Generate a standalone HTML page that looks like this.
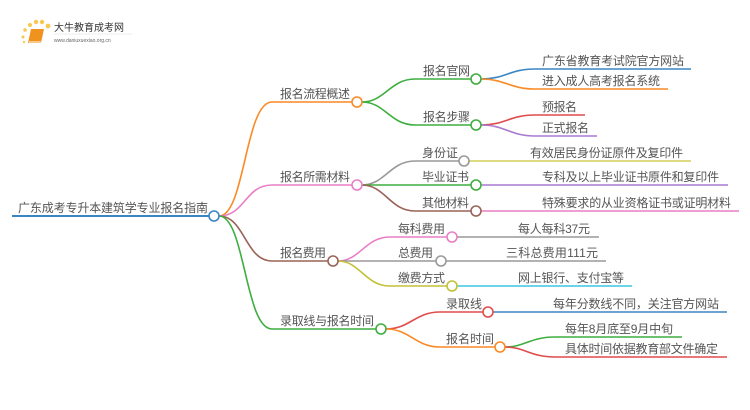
<!DOCTYPE html>
<html><head><meta charset="utf-8"><style>
html,body{margin:0;padding:0;background:#fff;}
svg{display:block;}
text{font-family:"Liberation Sans","Noto Sans CJK SC",sans-serif;font-size:12px;fill:#555;}
</style></head><body>
<svg width="750" height="410" viewBox="0 0 750 410" xmlns="http://www.w3.org/2000/svg">
<g>
<circle cx="23" cy="37" r="1.5" fill="#f9c74f"/><circle cx="25" cy="30" r="1.8" fill="#f9c74f"/>
<circle cx="30" cy="25" r="2" fill="#f9c74f"/><circle cx="36" cy="22" r="2.2" fill="#f9c74f"/>
<circle cx="42" cy="22" r="2.2" fill="#f9c74f"/><circle cx="48" cy="26" r="2.4" fill="#f9c74f"/>
<circle cx="24" cy="42" r="1.2" fill="#f9c74f"/>
<path d="M31 29 L44 29 L41 43 L28 43 Z" fill="#f0931e"/>
<path d="M29 42 L41 42" stroke="#fff" stroke-width="1"/>
<text x="54" y="31" style="font-size:10px;fill:#333">大牛教育成考网</text>
<line x1="54" y1="34" x2="132" y2="34" stroke="#ddd" stroke-width="0.6"/>
<text x="54" y="42" style="font-size:5px;fill:#666">www.daniuxuexiao.org.cn</text>
</g>
<g fill="none" stroke-width="1.6">
<line x1="12" y1="216" x2="209" y2="216" stroke="#3a86c3" stroke-width="2"/>
<path d="M219 216 C245 216 245 102 272 102 L352 102" stroke="#f98a25"/>
<path d="M219 216 C245 216 245 185 272 185 L352 185" stroke="#ea7ec6"/>
<path d="M219 216 C245 216 245 261 272 261 L328 261" stroke="#9a6357"/>
<path d="M219 216 C245 216 245 329 272 329 L376 329" stroke="#3eae3e"/>
<path d="M362 102 C385 102 390 79 415 79 L471 79" stroke="#3eae3e"/>
<path d="M362 102 C385 102 390 125 415 125 L471 125" stroke="#3eae3e"/>
<path d="M481 79 C505 79 510 69 535 69 L691 69" stroke="#3a86c3"/>
<path d="M481 79 C505 79 510 89 535 89 L668 89" stroke="#f98a25"/>
<path d="M481 125 C505 125 510 115 535 115 L585 115" stroke="#e04b4b"/>
<path d="M481 125 C505 125 510 136 535 136 L597 136" stroke="#a87ad0"/>
<path d="M362 185 C385 185 390 161 415 161 L459 161" stroke="#999"/>
<path d="M362 185 L471 185" stroke="#3eae3e"/>
<path d="M362 185 C385 185 390 211 415 211 L471 211" stroke="#9a6357"/>
<path d="M469 161 L691 161" stroke="#d4cf5a"/>
<path d="M481 185 L728 185" stroke="#a87ad0"/>
<path d="M481 211 L739 211" stroke="#ea7ec6"/>
<path d="M338 261 C360 261 365 237 390 237 L447 237" stroke="#ea7ec6"/>
<path d="M338 261 L436 261" stroke="#999"/>
<path d="M338 261 C360 261 365 286 390 286 L447 286" stroke="#c3c036"/>
<path d="M457 237 L599 237" stroke="#999"/>
<path d="M446 261 L606 261" stroke="#999"/>
<path d="M457 286 L632 286" stroke="#3cc6dc"/>
<path d="M386 329 C410 329 415 312 440 312 L483 312" stroke="#e04b4b"/>
<path d="M386 329 C410 329 415 347 440 347 L495 347" stroke="#f98a25"/>
<path d="M493 312 L727 312" stroke="#3a86c3"/>
<path d="M505 347 C525 347 530 337 555 337 L682 337" stroke="#3eae3e"/>
<path d="M505 347 C525 347 530 357 555 357 L727 357" stroke="#e04b4b"/>
</g>
<g fill="#fff" stroke-width="1.6">
<circle cx="214" cy="216" r="5" stroke="#3a86c3"/>
<circle cx="357" cy="102" r="5" stroke="#f98a25"/>
<circle cx="357" cy="185" r="5" stroke="#ea7ec6"/>
<circle cx="333" cy="261" r="5" stroke="#9a6357"/>
<circle cx="381" cy="329" r="5" stroke="#3eae3e"/>
<circle cx="476" cy="79" r="5" stroke="#3eae3e"/>
<circle cx="476" cy="125" r="5" stroke="#3eae3e"/>
<circle cx="464" cy="161" r="5" stroke="#999"/>
<circle cx="476" cy="185" r="5" stroke="#3eae3e"/>
<circle cx="476" cy="211" r="5" stroke="#9a6357"/>
<circle cx="452" cy="237" r="5" stroke="#ea7ec6"/>
<circle cx="441" cy="261" r="5" stroke="#999"/>
<circle cx="452" cy="286" r="5" stroke="#c3c036"/>
<circle cx="488" cy="312" r="5" stroke="#e04b4b"/>
<circle cx="500" cy="347" r="5" stroke="#f98a25"/>
</g>
<text x="18" y="212" textLength="190">广东成考专升本建筑学专业报名指南</text>
<text x="280" y="98" textLength="70">报名流程概述</text>
<text x="280" y="181" textLength="70">报名所需材料</text>
<text x="280" y="257" textLength="46">报名费用</text>
<text x="280" y="325" textLength="94">录取线与报名时间</text>
<text x="423" y="75" textLength="47">报名官网</text>
<text x="423" y="121" textLength="47">报名步骤</text>
<text x="542" y="65" textLength="142">广东省教育考试院官方网站</text>
<text x="542" y="85" textLength="118">进入成人高考报名系统</text>
<text x="542" y="111" textLength="35">预报名</text>
<text x="542" y="132" textLength="47">正式报名</text>
<text x="422" y="157" textLength="36">身份证</text>
<text x="422" y="181" textLength="47">毕业证书</text>
<text x="422" y="207" textLength="47">其他材料</text>
<text x="530" y="157" textLength="153">有效居民身份证原件及复印件</text>
<text x="542" y="181" textLength="177">专科及以上毕业证书原件和复印件</text>
<text x="542" y="207" textLength="189">特殊要求的从业资格证书或证明材料</text>
<text x="398" y="233" textLength="47">每科费用</text>
<text x="398" y="257" textLength="35">总费用</text>
<text x="398" y="282" textLength="47">缴费方式</text>
<text x="518" y="233" textLength="72">每人每科37元</text>
<text x="506" y="257" textLength="92">三科总费用111元</text>
<text x="518" y="282" textLength="106">网上银行、支付宝等</text>
<text x="446" y="308" textLength="36">录取线</text>
<text x="446" y="343" textLength="48">报名时间</text>
<text x="553" y="308" textLength="166">每年分数线不同，关注官方网站</text>
<text x="565" y="333" textLength="108">每年8月底至9月中旬</text>
<text x="565" y="353" textLength="153">具体时间依据教育部文件确定</text>
</svg>
</body></html>
